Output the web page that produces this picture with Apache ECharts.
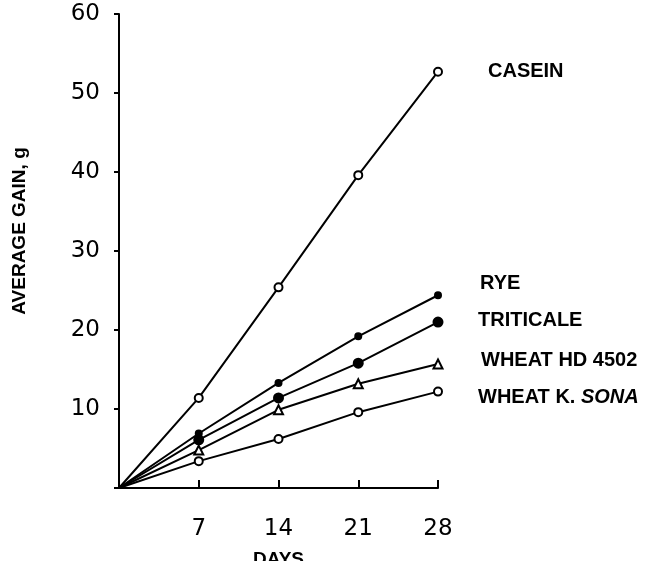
<!DOCTYPE html>
<html>
<head>
<meta charset="utf-8">
<script src="https://cdn.jsdelivr.net/npm/echarts@6/dist/echarts.min.js"></script>
<style>
  html, body { margin: 0; padding: 0; background: #fff; }
</style>
</head>
<body>
<div id="gainChart" style="width: 649px; height: 561px"></div>
<script>
// days of feeding
var days = [0, 7, 14, 21, 28];
var xTicks = [7, 14, 21, 28];
var yTicks = [10, 20, 30, 40, 50, 60];

// average gain, g
var casein = [0, 11.4, 25.4, 39.6, 52.7];
var rye = [0, 6.9, 13.3, 19.2, 24.4];
var triticale = [0, 6.1, 11.4, 15.8, 21.0];
var wheatHD = [0, 4.8, 9.9, 13.2, 15.7];
var wheatSona = [0, 3.4, 6.2, 9.6, 12.2];

var seriesNames = ["CASEIN", "RYE", "TRITICALE", "WHEAT HD 4502", "WHEAT K. SONA"];

function pairs(vals) {
  return days.map(function (d, i) { return [d, vals[i]]; });
}

var myChart = echarts.init(document.getElementById("gainChart"));

function makeSeries(name, vals, symbol, size, filled, labelOffset, labelText) {
  return {
    name: name,
    type: "line",
    data: pairs(vals),
    symbol: symbol,
    symbolSize: function (v) { return v[0] === 0 ? 0 : size; },
    showSymbol: true,
    lineStyle: { color: "#000", width: 2 },
    itemStyle: {
      color: filled ? "#000" : "#fff",
      borderColor: "#000",
      borderWidth: 2
    },
    endLabel: {
      show: true,
      offset: labelOffset,
      formatter: labelText || name,
      color: "#000",
      fontFamily: "Liberation Sans",
      fontWeight: "bold",
      fontSize: 20,
      rich: {
        it: { fontStyle: "italic", fontWeight: "bold", fontSize: 20, fontFamily: "Liberation Sans", color: "#000" }
      }
    },
    animation: false,
    z: 3
  };
}

var option = {
  backgroundColor: "#fff",
  animation: false,
  grid: { left: 119, right: 211, top: 14, bottom: 73, containLabel: false, outerBoundsMode: "none" },
  xAxis: {
    type: "value",
    min: 0,
    max: 28,
    interval: 7,
    name: "DAYS",
    nameLocation: "middle",
    nameGap: 62,
    nameTextStyle: { color: "#000", fontWeight: "bold", fontSize: 19, fontFamily: "Liberation Sans" },
    axisLine: { lineStyle: { color: "#000", width: 2 } },
    axisTick: { inside: true, length: 8, lineStyle: { color: "#000", width: 2 } },
    axisLabel: {
      color: "#000",
      fontSize: 23,
      fontFamily: "DejaVu Sans",
      margin: 30,
      formatter: function (v) { return xTicks.indexOf(v) >= 0 ? String(v) : ""; }
    },
    splitLine: { show: false }
  },
  yAxis: {
    type: "value",
    min: 0,
    max: 60,
    interval: 10,
    name: "AVERAGE GAIN, g",
    nameLocation: "middle",
    nameGap: 90,
    nameTextStyle: { color: "#000", fontWeight: "bold", fontSize: 19, fontFamily: "Liberation Sans", padding: [0, 0, 0, 40] },
    axisLine: { show: true, lineStyle: { color: "#000", width: 2 } },
    axisTick: { length: 5, lineStyle: { color: "#000", width: 2 } },
    axisLabel: {
      color: "#000",
      fontSize: 23,
      fontFamily: "DejaVu Sans",
      margin: 19,
      formatter: function (v) { return yTicks.indexOf(v) >= 0 ? String(v) : ""; }
    },
    splitLine: { show: false }
  },
  series: [
    makeSeries(seriesNames[0], casein, "circle", 8, false, [42, 0]),
    makeSeries(seriesNames[1], rye, "circle", 6, true, [34, -12]),
    makeSeries(seriesNames[2], triticale, "circle", 9, true, [32, -2]),
    makeSeries(seriesNames[3], wheatHD, "triangle", 9, false, [35, -3]),
    makeSeries(seriesNames[4], wheatSona, "circle", 8, false, [32, 6], "WHEAT K. {it|SONA}")
  ]
};

myChart.setOption(option);
</script>
</body>
</html>
